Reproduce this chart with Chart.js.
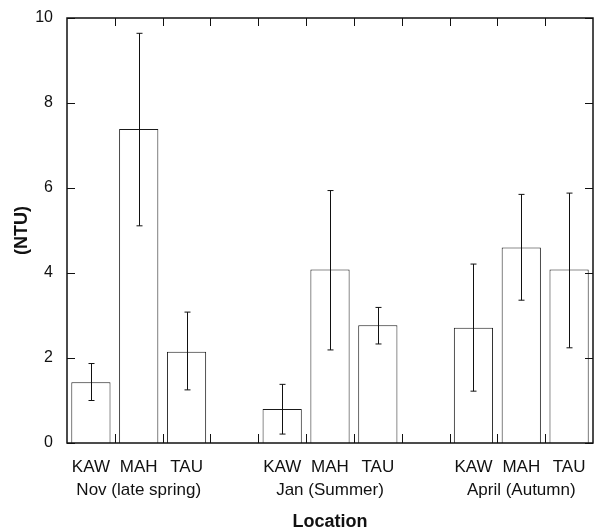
<!DOCTYPE html>
<html>
<head>
<meta charset="utf-8">
<script src="https://cdn.jsdelivr.net/npm/chart.js@4"></script>
<style>
  html, body { margin: 0; padding: 0; background: #fff; }
  #wrap { width: 596px; height: 529px; }
</style>
</head>
<body>
<div id="wrap"><canvas id="ntu"></canvas></div>
<script>
// categories (empty slots separate the seasons)
const sites = ['KAW', 'MAH', 'TAU', '', 'KAW', 'MAH', 'TAU', '', 'KAW', 'MAH', 'TAU'];
const seasons = ['Nov (late spring)', 'Jan (Summer)', 'April (Autumn)'];
// mean turbidity and error bar ends (NTU)
const means = [1.43, 7.39, 2.15, null, 0.80, 4.08, 2.77, null, 2.71, 4.60, 4.08];
const lower = [1.00, 5.11, 1.25, null, 0.21, 2.19, 2.33, null, 1.22, 3.36, 2.24];
const upper = [1.87, 9.64, 3.08, null, 1.38, 5.94, 3.19, null, 4.21, 5.85, 5.88];
const yTicks = [0, 2, 4, 6, 8, 10];

const ink = '#111';
const fam = '"Liberation Sans", Arial, Helvetica, sans-serif';

// frame, inward ticks and error bars
const framePlugin = {
  id: 'frame',
  afterDatasetsDraw(chart) {
    const ctx = chart.ctx;
    const a = chart.chartArea;
    const x = chart.scales.x, y = chart.scales.y;
    ctx.save();
    ctx.strokeStyle = ink;

    // error bars
    ctx.lineWidth = 1;
    for (let i = 0; i < means.length; i++) {
      if (means[i] == null) continue;
      const px = Math.round(x.getPixelForValue(i)) + 0.5;
      const y1 = y.getPixelForValue(upper[i]);
      const y2 = y.getPixelForValue(lower[i]);
      ctx.beginPath();
      ctx.moveTo(px, y1); ctx.lineTo(px, y2);
      ctx.moveTo(px - 3, y1); ctx.lineTo(px + 3, y1);
      ctx.moveTo(px - 3, y2); ctx.lineTo(px + 3, y2);
      ctx.stroke();
    }

    // x ticks at slot boundaries, top and bottom, pointing in
    const slot = (a.right - a.left) / sites.length;
    ctx.lineWidth = 1;
    ctx.beginPath();
    for (let i = 1; i < sites.length; i++) {
      const px = Math.round(a.left + i * slot) + 0.5;
      ctx.moveTo(px, a.top); ctx.lineTo(px, a.top + 8);
      ctx.moveTo(px, a.bottom); ctx.lineTo(px, a.bottom - 9);
    }
    // y ticks on both sides, pointing in
    yTicks.forEach(v => {
      const py = Math.round(y.getPixelForValue(v)) + 0.5;
      ctx.moveTo(a.left, py); ctx.lineTo(a.left + 8, py);
      ctx.moveTo(a.right, py); ctx.lineTo(a.right - 8, py);
    });
    ctx.stroke();

    ctx.lineWidth = 1.5;
    ctx.strokeRect(a.left, a.top, a.right - a.left, a.bottom - a.top);
    ctx.restore();
  }
};

new Chart(document.getElementById('ntu'), {
  type: 'bar',
  data: {
    labels: sites,
    datasets: [{
      data: means,
      backgroundColor: '#fff',
      borderColor: '#1a1a1a',
      borderWidth: 1,
      borderSkipped: 'bottom',
      barPercentage: 0.82,
      categoryPercentage: 1
    }]
  },
  options: {
    responsive: true,
    maintainAspectRatio: false,
    animation: false,
    layout: { padding: { top: 18, right: 3, left: 0, bottom: 0 } },
    plugins: { legend: { display: false }, tooltip: { enabled: false } },
    scales: {
      x: {
        grid: { display: false },
        border: { display: false },
        afterFit: s => { s.height = 86; s.paddingLeft = 0; s.paddingRight = 0; },
        ticks: {
          color: ink,
          padding: 5,
          maxRotation: 0,
          autoSkip: false,
          font: { family: fam, size: 17, lineHeight: 1.35 },
          callback: (v, i) => {
            // season name goes under the middle site of each group
            if (i % 4 === 1) return [sites[i], seasons[(i - 1) / 4]];
            return sites[i];
          }
        },
        title: {
          display: true,
          text: 'Location',
          color: ink,
          padding: 0,
          font: { family: fam, size: 18, weight: 'bold', lineHeight: 0.8 }
        }
      },
      y: {
        min: 0,
        max: 10,
        grid: { display: false, drawTicks: false },
        border: { display: false },
        afterFit: s => { s.width = 67; s.paddingTop = 0; s.paddingBottom = 0; },
        afterBuildTicks: s => { s.ticks = yTicks.map(v => ({ value: v })); },
        ticks: {
          color: ink,
          padding: 14,
          font: { family: fam, size: 16 }
        },
        title: {
          display: true,
          text: '(NTU)',
          color: ink,
          padding: { top: 11, bottom: 0 },
          font: { family: fam, size: 18, weight: 'bold' }
        }
      }
    }
  },
  plugins: [framePlugin]
});
</script>
</body>
</html>
